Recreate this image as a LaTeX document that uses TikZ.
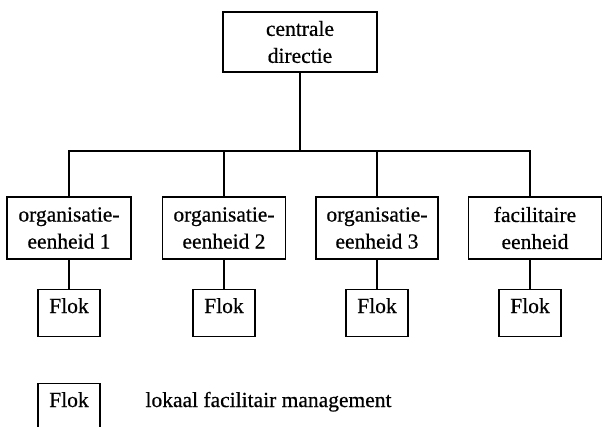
\documentclass[tikz,border=0pt]{standalone}
\usepackage{fontspec}
\setmainfont[FakeBold=0.6]{Liberation Serif}
\begin{document}
\begin{tikzpicture}[x=1pt,y=-1pt,
  every node/.style={font=\fontsize{21.5}{27}\selectfont},
  unit/.style={draw, line width=1.8pt, inner sep=0pt, align=center, minimum height=62pt},
  flok/.style={draw, line width=1.8pt, inner sep=0pt, minimum width=62pt,
    minimum height=47pt, text height=14pt, text depth=14pt},
  link/.style={line width=1.8pt}]
\useasboundingbox (0,0) rectangle (604,427);

% top of the organisation
\node[unit, minimum width=154pt, minimum height=60pt] (top) at (300,42) {centrale\\directie};

% organisational units
\node[unit, minimum width=124pt] (b1) at (69,228)  {organisatie-\\eenheid 1};
\node[unit, minimum width=123pt] (b2) at (224,228) {organisatie-\\eenheid 2};
\node[unit, minimum width=122pt] (b3) at (377,228) {organisatie-\\eenheid 3};
\node[unit, minimum width=133pt] (b4) at (535,228) {facilitaire\\eenheid};

% local facility management
\node[flok] (f1) at (69,313)  {Flok};
\node[flok] (f2) at (224,313) {Flok};
\node[flok] (f3) at (377,313) {Flok};
\node[flok] (f4) at (530,313) {Flok};

% legend
\node[flok] (lf) at (69,407) {Flok};
\node[anchor=base west] (lt) at (142,407) {lokaal facilitair management};

% connectors
\coordinate (bus) at (300,151);
\draw[link] (top.south) -- (bus);
\draw[link] (b1.north) |- (bus) -| (f4 |- b4.north);
\draw[link] (b2.north) -- (b2.north |- bus);
\draw[link] (b3.north) -- (b3.north |- bus);
\draw[link] (b1.south) -- (f1.north);
\draw[link] (b2.south) -- (f2.north);
\draw[link] (b3.south) -- (f3.north);
\draw[link] (f4 |- b4.south) -- (f4.north);
\end{tikzpicture}
\end{document}
